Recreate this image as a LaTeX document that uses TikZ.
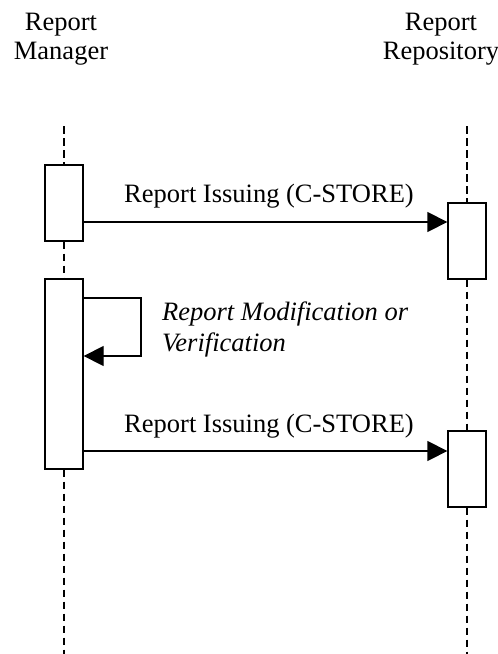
\documentclass[tikz,border=0pt]{standalone}
\usepackage{fontspec}
\setmainfont{Liberation Serif}
\usetikzlibrary{arrows.meta}
\begin{document}
\begin{tikzpicture}[x=1pt,y=-1pt,
  lbl/.style={font=\fontsize{26.5}{30}\selectfont, inner sep=0pt, anchor=base},
  ilbl/.style={font=\fontsize{26.5}{31}\selectfont\itshape, inner sep=0pt, anchor=base west},
  actbox/.style={draw, line width=1.3pt, fill=white, minimum width=38pt, inner sep=0pt},
  life/.style={line width=1.8pt, dash pattern=on 7.5pt off 4.5pt},
  msg/.style={line width=1.3pt, -{Triangle[length=20pt,width=20pt]}}]
\useasboundingbox (0,0) rectangle (498,654);
% headers
\node[lbl] (rmA) at (61,30) {Report};
\node[lbl] (rmB) at (61,59.5) {Manager};
\node[lbl] (rrA) at (441,30) {Report};
\node[lbl] (rrB) at (441,59.5) {Repository};
% lifeline endpoints
\coordinate (lt) at (64,126);
\coordinate (lb) at (64,654);
\coordinate (rt) at (467,126);
\coordinate (rb) at (467,654);
% activation boxes
\node[actbox, minimum height=76pt] (a1) at (64,203) {};
\node[actbox, minimum height=190pt] (a2) at (64,374) {};
\node[actbox, minimum height=76pt] (b1) at (467,241) {};
\node[actbox, minimum height=76pt] (b2) at (467,469) {};
% lifelines
\draw[life] (lt) -- (a1.north);
\draw[life] (a1.south) -- (a2.north);
\draw[life] (a2.south) -- (lb);
\draw[life] (rt) -- (b1.north);
\draw[life] (b1.south) -- (b2.north);
\draw[life] (b2.south) -- (rb);
% messages
\draw[msg] (a1.east |- 0,222) -- (b1.west |- 0,222);
\node[lbl] (m1) at (269,202) {Report Issuing (C-STORE)};
\coordinate (sc1) at (141,298);
\coordinate (sc2) at (141,356);
\draw[msg] (a2.east |- sc1) -- (sc1) -- (sc2) -- (a2.east |- sc2);
\node[ilbl] (s1) at (162,320) {Report Modification or};
\node[ilbl] (s2) at (162,351) {Verification};
\draw[msg] (a2.east |- 0,451) -- (b2.west |- 0,451);
\node[lbl] (m2) at (269,432) {Report Issuing (C-STORE)};
\end{tikzpicture}
\end{document}
